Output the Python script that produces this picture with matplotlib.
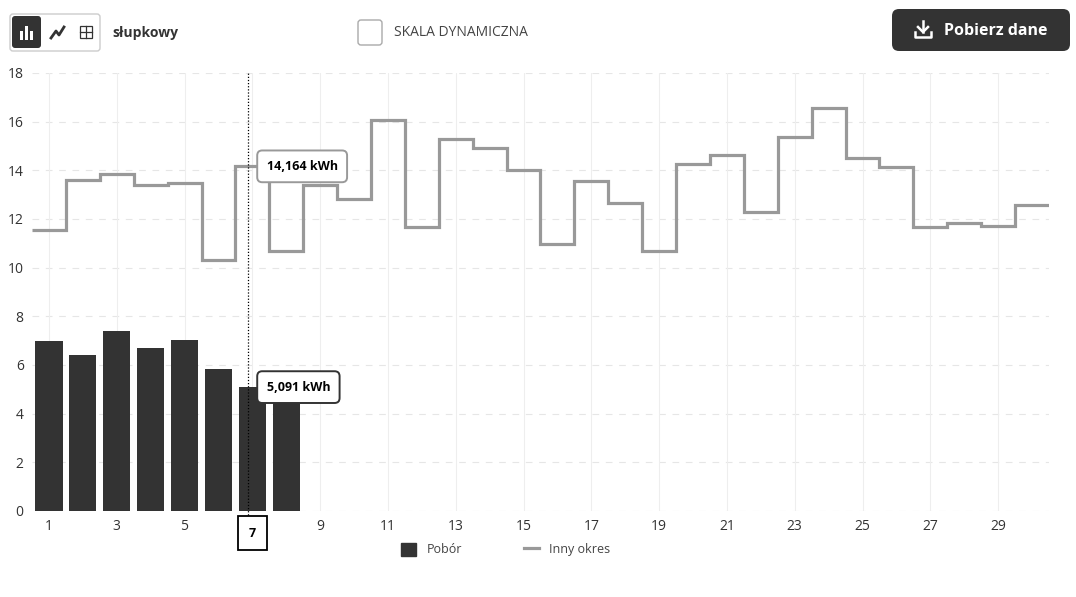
import matplotlib.pyplot as plt
import numpy as np
from matplotlib.patches import FancyBboxPatch, Rectangle
from matplotlib.lines import Line2D

plt.rcParams['font.family'] = ['Open Sans', 'DejaVu Sans']

# data
days = np.arange(1, 31)
usage = [7.0, 6.41, 7.41, 6.7, 7.01, 5.82, 5.091, 5.77]
other = [11.55, 13.6, 13.85, 13.4, 13.48, 10.3, 14.164, 10.68, 13.4, 12.82,
         16.07, 11.67, 15.29, 14.92, 14.01, 10.97, 13.55, 12.65, 10.7, 14.25,
         14.63, 12.3, 15.36, 16.55, 14.52, 14.12, 11.67, 11.85, 11.73, 12.59]
xtick_vals = list(range(1, 31, 2))
ytick_vals = list(range(0, 19, 2))
sel_day = 7

dark = '#333333'
gray = '#999999'
W, H = 1076, 597

fig = plt.figure(figsize=(W / 100, H / 100), dpi=100)
ax = fig.add_axes([32 / W, (H - 511) / H, (1049 - 32) / W, (511 - 73) / H])

ax.bar(days[:len(usage)], usage, width=0.8, color=dark, zorder=2)
ax.stairs(other, np.arange(0.5, len(other) + 1), baseline=None, color=gray, lw=2.3, zorder=3)

ax.set_xlim(0.5, 30.5)
ax.set_ylim(0, 18)
ax.set_xticks(xtick_vals)
# the selected day's label is covered by the hover box in the reference
ax.set_xticklabels(['' if v == sel_day else str(v) for v in xtick_vals])
ax.set_yticks(ytick_vals)
ax.tick_params(length=0, labelsize=10, colors=dark, pad=6)
for s in ax.spines.values():
    s.set_visible(False)
for y in ytick_vals:
    ax.axhline(y, color='#e6e6e6', lw=0.8, ls=(0, (6, 6)), zorder=0)
for x in xtick_vals:
    ax.axvline(x, color='#eeeeee', lw=0.8, zorder=0)

# hover line + tooltips
ax.axvline(sel_day - 0.13, color='black', lw=0.9, ls=(0, (1, 1.5)), zorder=5, ymin=-0.01, clip_on=False)
ax.annotate(f'{other[sel_day - 1]:.3f}'.replace('.', ',') + ' kWh', xy=(sel_day + 0.42, other[sel_day - 1]),
            ha='left', va='center', fontsize=9, fontweight='bold', color='black', zorder=6,
            bbox=dict(boxstyle='round,pad=0.75,rounding_size=0.4', fc='white', ec=gray, lw=1.4))
ax.annotate(f'{usage[sel_day - 1]:.3f}'.replace('.', ',') + ' kWh', xy=(sel_day + 0.42, usage[sel_day - 1]),
            ha='left', va='center', fontsize=9, fontweight='bold', color='black', zorder=6,
            bbox=dict(boxstyle='round,pad=0.75,rounding_size=0.4', fc='white', ec=dark, lw=1.4))
ax.annotate(str(sel_day), xy=(sel_day, 0), xytext=(0, -16), textcoords='offset points',
            ha='center', va='center', fontsize=9, fontweight='bold', color='black', zorder=6,
            bbox=dict(boxstyle='square,pad=0.85', fc='white', ec='black', lw=1.3), annotation_clip=False)

handles = [Rectangle((0, 0), 1, 1, fc=dark, ec=dark),
           Line2D([0], [0], color=gray, lw=2.3)]
ax.legend(handles, ['Pobór', 'Inny okres'], loc='upper center', bbox_to_anchor=(0.466, -0.047),
          ncol=2, frameon=False, fontsize=9, handlelength=1.2, handleheight=1.2,
          columnspacing=5, labelcolor='#444444')

# UI bar on top, drawn in pixel coordinates
ui = fig.add_axes([0, 0, 1, 1], zorder=10)
ui.set_xlim(0, W)
ui.set_ylim(H, 0)
ui.axis('off')
ui.add_patch(FancyBboxPatch((10, 14), 90, 37, boxstyle='round,pad=0,rounding_size=3',
                            fc='white', ec='#cccccc', lw=1))
ui.add_patch(FancyBboxPatch((12, 16), 29, 32, boxstyle='round,pad=0,rounding_size=3',
                            fc=dark, ec='none'))
for bx, bh in [(20, 9), (25, 14), (30, 9)]:
    ui.add_patch(Rectangle((bx, 40 - bh), 3, bh, fc='white', ec='none'))
ui.plot([51, 56, 59, 64], [38, 31, 35, 27], color=dark, lw=2)
ui.add_patch(Rectangle((80, 26), 12, 12, fc='none', ec=dark, lw=0.9))
ui.plot([86, 86], [26, 38], color=dark, lw=0.9)
ui.plot([80, 92], [32, 32], color=dark, lw=0.9)
ui.text(112, 33, 'słupkowy', fontsize=10, fontweight='bold', color=dark, va='center')
ui.add_patch(FancyBboxPatch((358, 20), 24, 25, boxstyle='round,pad=0,rounding_size=3',
                            fc='white', ec='#aaaaaa', lw=1))
ui.text(394, 33, 'SKALA DYNAMICZNA', fontsize=10, color='#444444', va='center')
ui.add_patch(FancyBboxPatch((892, 9), 178, 42, boxstyle='round,pad=0,rounding_size=7',
                            fc=dark, ec='none'))
ui.plot([923, 923], [21, 32], color='white', lw=1.8)
ui.plot([918, 923, 928], [27, 32, 27], color='white', lw=1.8)
ui.plot([915, 915, 931, 931], [32, 37, 37, 32], color='white', lw=1.8)
ui.text(944, 31, 'Pobierz dane', fontsize=11.5, fontweight='bold', color='white', va='center')

fig.savefig('out.png', dpi=100, facecolor='white')
